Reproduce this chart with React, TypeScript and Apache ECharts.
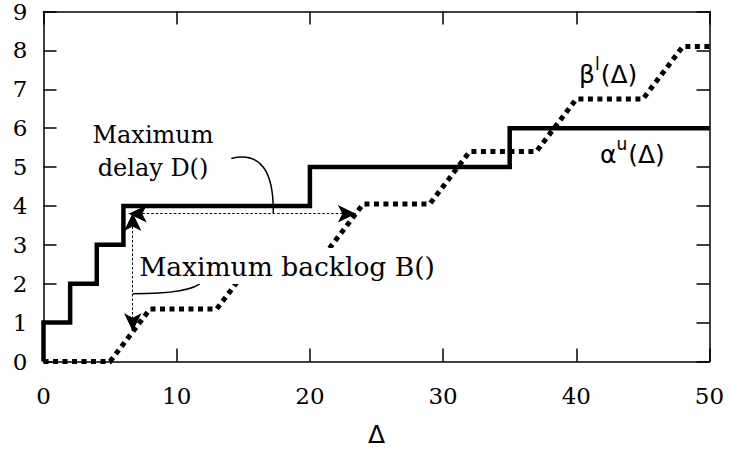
import React, { useEffect, useRef } from "react";
import * as echarts from "echarts";

// α^u(Δ): upper arrival curve (staircase), value after each step
const alphaX = [0, 0, 2, 4, 6, 20, 35, 50];
const alphaY = [0, 1, 2, 3, 4, 5, 6, 6];

// β^l(Δ): lower service curve breakpoints
const betaX = [0, 5, 8, 13, 16, 21, 24, 29, 32, 37, 40, 45, 48, 50];
const betaY = [0, 0, 1.35, 1.35, 2.7, 2.7, 4.05, 4.05, 5.4, 5.4, 6.75, 6.75, 8.1, 8.1];

// axis ticks
const xTicks = [0, 10, 20, 30, 40, 50];
const yTicks = [0, 1, 2, 3, 4, 5, 6, 7, 8, 9];

// arrows (data units): horizontal delay, vertical backlog
const delayArrow = [[6.4, 3.8], [23.45, 3.8]];
const backlogArrow = [[6.7, 3.82], [6.7, 0.78]];

// connector curves (data units): start, cp1, cp2, end
const delayCurve = [[14.1, 5.22], [16.3, 5.4], [17.3, 4.9], [17.25, 3.8]];
const backlogCurve = [[6.7, 1.74], [9.5, 1.74], [11.4, 1.85], [11.9, 2.05]];

const SERIF = "DejaVu Serif";
const SANS = "DejaVu Sans";

export default function App() {
  const ref = useRef<HTMLDivElement>(null);
  useEffect(() => {
    if (!ref.current) return;
    const chart = echarts.init(ref.current, undefined, { renderer: "svg" });
    const axisLine = { show: true, onZero: false, lineStyle: { color: "#000", width: 1.5 } };
    const tick = { show: true, inside: true, length: 13, lineStyle: { color: "#000", width: 1.5 } };
    const alphaData = alphaX.map((x, i) => [x, alphaY[i]]);
    const betaData = betaX.map((x, i) => [x, betaY[i]]);
    const option: any = {
      animation: false,
      grid: { left: 43.5, right: 20.5, top: 10, bottom: 101.5 },
      xAxis: [
        {
          type: "value", min: xTicks[0], max: xTicks[xTicks.length - 1], interval: 10, position: "bottom",
          axisLine, axisTick: tick, splitLine: { show: false },
          axisLabel: { color: "#000", fontFamily: SERIF, fontSize: 23, margin: 23 },
          name: "Δ", nameLocation: "middle", nameGap: 60,
          nameTextStyle: { color: "#000", fontFamily: SANS, fontSize: 25 },
        },
        {
          type: "value", min: 0, max: 50, interval: 10, position: "top",
          axisLine, axisTick: tick, splitLine: { show: false }, axisLabel: { show: false },
        },
      ],
      yAxis: [
        {
          type: "value", min: yTicks[0], max: yTicks[yTicks.length - 1], interval: 1, position: "left",
          axisLine, axisTick: tick, splitLine: { show: false },
          axisLabel: { color: "#000", fontFamily: SERIF, fontSize: 23, margin: 16 },
        },
        {
          type: "value", min: 0, max: 9, interval: 1, position: "right",
          axisLine, axisTick: tick, splitLine: { show: false }, axisLabel: { show: false },
        },
      ],
      series: [
        {
          type: "line", data: betaData, showSymbol: false, symbol: "none", z: 3,
          lineStyle: { color: "#000", width: 5, type: [5, 4.5], cap: "butt", join: "miter" },
          markLine: {
            silent: true, symbol: ["arrow", "arrow"], symbolSize: [13, 18], z: 4,
            label: { show: false },
            lineStyle: { color: "#000", width: 1, type: [2.5, 2], opacity: 1 },
            data: [
              [{ coord: delayArrow[0] }, { coord: delayArrow[1] }],
              [{ coord: backlogArrow[0] }, { coord: backlogArrow[1] }],
            ],
          },
        },
        {
          type: "line", data: alphaData, step: "end", showSymbol: false, symbol: "none", z: 5,
          lineStyle: { color: "#000", width: 4.5, join: "miter" },
        },
        {
          type: "custom", data: [0], z: 6, silent: true,
          renderItem: (params: any, api: any) => {
            const mk = (c: number[][]) => {
              const p = c.map((d) => api.coord(d));
              return {
                type: "bezierCurve",
                shape: { x1: p[0][0], y1: p[0][1], cpx1: p[1][0], cpy1: p[1][1], cpx2: p[2][0], cpy2: p[2][1], x2: p[3][0], y2: p[3][1] },
                style: { stroke: "#000", lineWidth: 1.5, fill: null },
              };
            };
            return { type: "group", children: [mk(delayCurve), mk(backlogCurve)] };
          },
        },
      ],
      graphic: [
        {
          type: "text", x: 153, y: 151, z: 100,
          style: {
            text: "Maximum\ndelay D()", fontFamily: SERIF, fontSize: 24, lineHeight: 33,
            fill: "#000", align: "center", verticalAlign: "middle",
          },
        },
        {
          type: "text", x: 287, y: 266, z: 100,
          style: {
            text: "Maximum backlog B()", fontFamily: SERIF, fontSize: 26.5, lineHeight: 30, fill: "#000",
            align: "center", verticalAlign: "middle", backgroundColor: "#fff", padding: [3, 3],
          },
        },
        {
          type: "text", x: 579, y: 74, z: 100,
          style: {
            text: "{a|β}{s|l}{a|(Δ)}", align: "left", verticalAlign: "middle",
            rich: {
              a: { fontFamily: SANS, fontSize: 25, fill: "#000" },
              s: { fontFamily: SANS, fontSize: 17, fill: "#000", padding: [0, 1, 20, 0] },
            },
          },
        },
        {
          type: "text", x: 600, y: 154, z: 100,
          style: {
            text: "{a|α}{s|u}{a|(Δ)}", align: "left", verticalAlign: "middle",
            rich: {
              a: { fontFamily: SANS, fontSize: 25, fill: "#000" },
              s: { fontFamily: SANS, fontSize: 17, fill: "#000", padding: [0, 1, 20, 0] },
            },
          },
        },
      ],
    };
    chart.setOption(option);
    return () => chart.dispose();
  }, []);
  return <div ref={ref} style={{ width: 730, height: 463, position: "absolute", left: 0, top: 0 }} />;
}
